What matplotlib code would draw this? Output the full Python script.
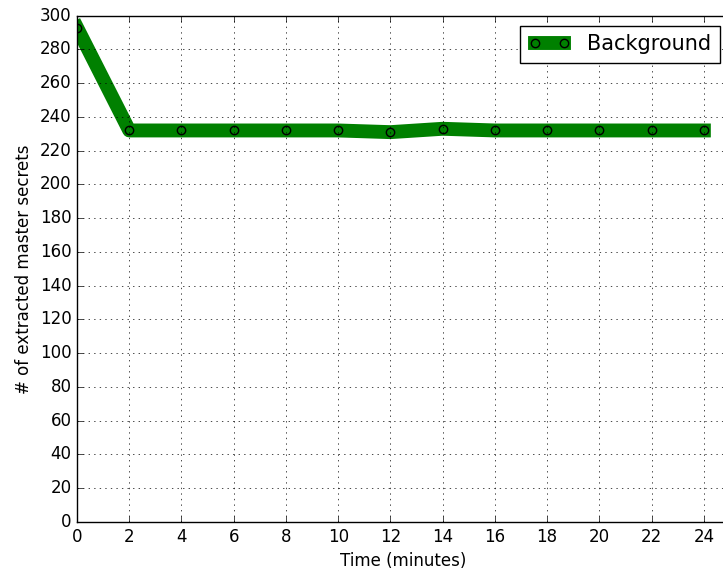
import matplotlib
matplotlib.use("Agg")
import matplotlib.pyplot as plt

plt.style.use("classic")

time_min = [0, 2, 4, 6, 8, 10, 12, 14, 16, 18, 20, 22, 24]
secrets = [293, 232, 232, 232, 232, 232, 231, 233, 232, 232, 232, 232, 232]
x_ticks = list(range(0, 25, 2))
y_ticks = list(range(0, 301, 20))

fig = plt.figure(figsize=(7.23, 5.71), dpi=100, facecolor="white")
ax = fig.add_axes([77 / 723, 49 / 571, 653 / 723, 506.3 / 571])
ax.plot(time_min, secrets, color="green", linewidth=10, marker="o",
        markersize=6, markerfacecolor="none", markeredgecolor="black",
        markeredgewidth=1, label="Background")
ax.set_xlim(0, 25)
ax.set_ylim(0, 300)
ax.set_xticks(x_ticks)
ax.set_yticks(y_ticks)
ax.grid(True)
ax.set_xlabel("Time (minutes)")
ax.set_ylabel("# of extracted master secrets")
ax.legend(loc="upper right", fontsize=15)
fig.savefig("out.png", dpi=100, facecolor="white")
